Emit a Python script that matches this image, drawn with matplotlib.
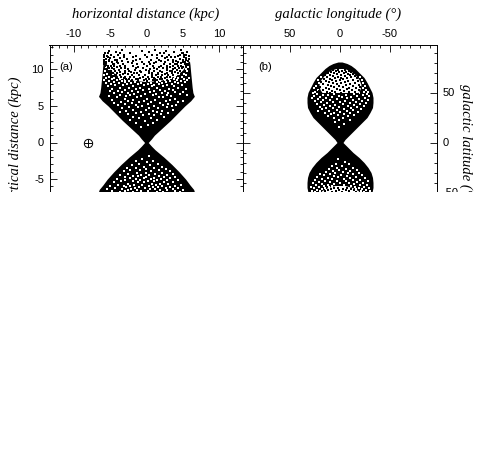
import matplotlib
matplotlib.use('Agg')
import matplotlib.pyplot as plt
from matplotlib.patches import Rectangle
from matplotlib.ticker import MultipleLocator

plt.rcParams['font.family'] = ['Liberation Sans', 'DejaVu Sans']
plt.rcParams['axes.unicode_minus'] = False

# outline of the point cloud (height, half width)
A_Z = [0, 0.5, 1, 2, 3, 4, 5, 5.7, 6.3, 6.8, 7.5, 8.5, 9.5, 10.6, 11.3]
A_HALF = [0.25, 0.7, 1.1, 2.2, 3.3, 4.3, 5.3, 6.1, 6.6, 6.4, 6.3, 6.2, 6.1, 6.0, 5.9]
A_ZS = [0, -0.5, -1, -2, -3, -4, -5, -5.8, -6.4, -7.0]
A_HALFS = [0.25, 0.7, 1.2, 2.4, 3.5, 4.5, 5.4, 6.0, 6.5, 6.7]

# the sparse area above the dense part of panel (a)
A_THIN_X = [-7, -5.7, -5.0, -4, -2, 0, 2, 4, 5.0, 5.7, 7]
A_THIN_Z = [11.6, 11.0, 9.9, 9.1, 8.5, 8.3, 8.5, 9.1, 9.9, 11.0, 11.6]

B_LAT = [0, 3, 6, 10, 15, 20, 25, 30, 35, 40, 45, 50, 55, 60, 65, 70, 74, 77, 79, 80.5]
B_HALF = [3, 5, 8, 12, 17, 22, 27, 30, 32.5, 33, 33, 32, 29.5, 27, 24, 19, 15, 11, 7, 2]
B_LATS = [0, -3, -6, -10, -15, -20, -25, -30, -35, -40, -45, -50, -52]
B_HALFS = [3, 6, 9, 13, 19, 24, 28, 31, 32.5, 33, 33, 32, 31]

# single dots at the top of panel (a): (height, [horizontal positions])
A_TOP_ROWS = [
    (12.6, [-3.4, 1.2, 4.7]),
    (12.45, [-5.1, -0.6, 2.7]),
    (12.3, [-4.2, 0.4, 3.8, 5.6]),
    (12.15, [-5.7, -2.3, 1.9, 4.9]),
    (12.0, [-4.9, -3.1, 0.8, 5.2, 3.1]),
    (11.85, [-5.4, -1.4, 2.2, 4.3, 5.8]),
    (11.7, [-5.9, -4.5, 0.1, 3.4]),
    (11.55, [-5.0, -3.7, 1.5, 5.5, 2.6]),
    (11.4, [-5.6, -2.7, -0.9, 4.6, 5.9]),
    (11.25, [-5.8, -4.3, 0.6, 3.0, 5.0]),
    (11.1, [-5.2, -3.3, -1.8, 2.0, 4.1, 5.7]),
    (10.95, [-5.9, -4.7, 0.3, 3.6, 5.3]),
    (10.8, [-5.5, -3.9, -2.0, 1.1, 4.8]),
    (10.65, [-4.4, -0.3, 2.4, 3.9, 5.6]),
    (10.5, [-5.3, -4.9, -2.9, 0.9, 2.9, 4.4]),
    (10.35, [-4.1, -1.1, 1.7, 3.3, 5.0]),
    (10.2, [-4.8, -3.5, -0.5, 2.3, 4.5]),
    (10.05, [-4.5, -2.5, 0.5, 1.4, 3.7]),
    (9.9, [-3.8, -1.6, 0.0, 2.8, 4.2]),
    (9.75, [-4.3, -3.0, 1.0, 3.2]),
    (9.6, [-3.6, -2.1, -0.7, 2.1, 4.0]),
    (9.45, [-4.0, -1.3, 0.7, 3.5]),
    (9.3, [-3.2, -2.6, 1.6, 2.5]),
    (9.15, [-3.7, -0.2, 1.3, 3.0]),
    (9.0, [-2.9, -1.7, 0.2, 2.0, 3.3]),
    (8.85, [-3.1, -0.9, 1.1, 2.6]),
    (8.7, [-2.4, -1.5, 0.4, 1.8]),
    (8.55, [-2.0, -0.4, 0.9, 1.5]),
    (8.4, [-1.2, 0.1, 1.2]),
    (12.22, [-5.3, -3.7, 2.4, 5.1]),
    (11.92, [-5.8, -3.9, -0.2, 1.4, 4.6, 5.5]),
    (11.62, [-5.3, -3.1, -1.9, 2.9, 4.0, 5.2]),
    (11.32, [-5.1, -4.0, -1.4, 1.7, 3.7, 5.4]),
    (11.02, [-5.6, -4.1, -2.6, -0.6, 1.3, 2.6, 4.4, 5.0]),
    (10.72, [-5.8, -4.6, -3.2, -1.3, 0.5, 3.2, 4.2, 5.3, 5.9]),
    (10.42, [-5.7, -4.4, -3.7, -1.9, 0.1, 2.0, 3.6, 4.8, 5.5]),
    (10.12, [-5.1, -3.0, -1.5, 1.0, 2.8, 4.0, 4.9]),
    (9.82, [-4.9, -2.4, -0.9, 0.4, 1.9, 3.5, 4.6]),
    (9.52, [-4.6, -2.9, -1.7, 0.3, 1.6, 2.9, 4.3]),
    (9.22, [-4.2, -2.0, -1.0, 0.8, 2.2, 3.6]),
    (8.92, [-3.5, -2.2, -0.5, 0.7, 1.6, 2.9]),
    (8.62, [-2.8, -1.2, 0.0, 1.2, 2.2]),
]

# white gaps inside the dense part of panel (a)
A_GAP_ROWS = [
    (10.3, [-5.6, 5.7]),
    (10.0, [-5.2, 5.4]),
    (9.7, [-5.7, -4.9, 4.8, 5.6]),
    (9.4, [-5.4, -4.6, 4.5, 5.2]),
    (9.2, [-5.8, -4.2, 4.1, 5.5]),
    (9.0, [-5.1, -3.8, 3.9, 4.9]),
    (8.85, [-5.5, -4.4, -3.3, 3.4, 4.4, 5.8]),
    (8.7, [-4.8, -3.6, 3.1, 3.8, 5.2]),
    (8.55, [-5.9, -4.1, -2.9, 2.5, 4.2, 5.6]),
    (8.4, [-5.2, -3.4, -2.4, 1.9, 3.3, 4.7]),
    (8.25, [-4.5, -3.0, -1.6, 1.4, 2.7, 3.9, 5.3]),
    (8.1, [-5.6, -3.8, -2.1, -0.7, 0.6, 2.2, 4.4]),
    (7.95, [-4.9, -2.7, -1.2, 0.2, 1.7, 3.5]),
    (7.8, [-4.3, -3.2, -0.3, 1.1, 2.9, 4.9]),
    (7.65, [-5.3, -1.9, 0.7, 2.3, 3.8]),
    (7.5, [-3.6, -2.4, -0.9, 1.5, 4.3]),
    (7.35, [-4.7, -1.4, 0.3, 3.1, 5.5]),
    (7.2, [-2.9, -0.5, 1.9, 3.6]),
    (7.05, [-5.0, -3.9, -2.0, 1.0, 2.6]),
    (6.9, [-3.3, -1.1, 0.5, 4.0, 5.1]),
    (6.75, [-4.4, -2.6, 2.1, 3.0]),
    (6.6, [-1.7, -0.2, 1.3, 4.6]),
    (6.45, [-3.7, -2.2, 0.9, 2.8, 5.6]),
    (6.3, [-5.2, -2.8, -0.7, 3.4]),
    (6.15, [-4.0, -1.3, 1.7, 2.3]),
    (6.0, [-3.0, 0.1, 3.9]),
    (5.85, [-4.8, -1.9, 1.2, 3.2]),
    (5.7, [-2.5, -0.4, 2.7, 5.0]),
    (5.55, [-3.5, -1.0, 0.6, 4.3]),
    (5.4, [-4.5, -2.0, 1.9]),
    (5.25, [-2.9, 0.2, 3.0]),
    (5.1, [-3.9, -1.5, 2.3, 4.1]),
    (4.95, [-0.6, 1.0, 3.5]),
    (4.8, [-2.4, -1.2, 2.8]),
    (4.65, [-3.3, 0.4, 1.6]),
    (4.5, [-1.8, -0.1, 3.7]),
    (4.35, [-2.8, 0.9, 2.2]),
    (4.2, [-3.6, -0.8, 1.4]),
    (4.05, [-1.4, 3.0]),
    (3.9, [-2.5, 0.3, 2.0]),
    (3.7, [-0.5, 1.1]),
    (3.5, [-1.9, 2.4]),
    (3.3, [-1.0, 0.6]),
    (3.1, [-2.2, 1.5]),
    (2.9, [-0.2]),
    (2.7, [-1.4, 0.9]),
    (2.4, [0.2]),
    (2.1, [-0.8]),
    (-1.9, [0.3]),
    (-2.2, [-0.6]),
    (-2.5, [0.9, -1.4]),
    (-2.7, [0.1]),
    (-2.9, [-1.0, 1.6]),
    (-3.1, [-2.0, 0.5]),
    (-3.3, [-0.4, 2.2]),
    (-3.5, [-1.5, 1.0, -2.7]),
    (-3.65, [0.0, 2.7]),
    (-3.8, [-2.2, -0.9, 1.7]),
    (-3.95, [-3.1, 0.6, 3.2]),
    (-4.1, [-1.3, 2.2, -0.1]),
    (-4.25, [-2.6, 1.2, 3.6]),
    (-4.4, [-3.6, -0.7, 0.4, 2.8]),
    (-4.55, [-1.9, 1.7, -1.1]),
    (-4.7, [-3.0, 0.0, 2.4, 3.9]),
    (-4.85, [-2.3, -0.4, 1.1, 3.3]),
    (-5.0, [-4.0, -1.5, 0.6, 2.0]),
    (-5.15, [-2.9, -0.9, 1.5, 2.9, 4.4]),
    (-5.3, [-3.5, -1.9, 0.2, 1.0]),
    (-5.45, [-4.5, -1.2, -0.3, 2.4, 3.6]),
    (-5.6, [-2.6, 0.7, 1.8, 3.0]),
    (-5.75, [-3.9, -1.7, -0.6, 1.3, 4.8]),
    (-5.9, [-5.0, -3.1, -2.2, 0.3, 2.2, 3.9]),
    (-6.05, [-2.8, -1.0, 0.9, 1.6, 3.2]),
    (-6.2, [-4.3, -1.6, -0.2, 2.7, 4.4]),
    (-6.35, [-5.4, -3.4, -2.1, 0.5, 1.2, 3.6]),
    (-6.5, [-2.5, -1.3, 1.9, 2.9, 5.1]),
    (-6.65, [-4.7, -3.0, -0.7, 0.2, 3.9]),
    (-6.8, [-3.7, -1.9, 1.4, 2.3, 4.6]),
]

# the bright caps of panel (b)
B_CAP_LAT = [50, 53, 58, 63, 68, 72, 74]
B_CAP_HALF = [18, 20, 21, 19, 15, 10, 4]
B_LOW_CAP_LAT = [-43, -45, -48, -52]
B_LOW_CAP_HALF = [5, 12, 18, 21]

B_CAP_ROWS = [
    (73, [-5, 2, 7]),
    (72, [-9, -2, 4]),
    (71, [-11, -6, 1, 9]),
    (70, [-4, 6, 12]),
    (69, [-13, -8, 3]),
    (68, [-1, 10, 15, -10]),
    (67, [-15, -5, 7]),
    (66, [-11, 2, 13]),
    (65, [-17, -7, 5, -1]),
    (64, [-3, 10, 16]),
    (63, [-13, 0, 8]),
    (62, [-18, -8, 4, 14]),
    (61, [-5, 11, 19]),
    (60, [-15, -1, 7]),
    (59, [-10, 3, 17]),
    (58, [-19, -6, 12]),
    (57, [-13, 1, 9]),
    (56, [-3, 6, 20, -20]),
    (55, [-16, -9, 14]),
    (54, [-7, 3, 11]),
    (53, [-19, -12, 17, 0]),
    (52, [-4, 8, 21]),
    (51, [-15, -9, 5, 13]),
    (50, [-1, -21, 19, 10]),
]

B_GAP_ROWS = [
    (66, [-20, 19]),
    (63, [-22, 22]),
    (60, [-23, 21]),
    (57, [-25, 24]),
    (55, [-23, 26]),
    (53, [-26, 22]),
    (51, [-24, 25, -28]),
    (50, [-20, 27]),
    (49, [-27, -14, 6, 23]),
    (48, [-23, -6, 12, 17]),
    (47, [-29, -17, 1, 26]),
    (46, [-11, -2, 20, 8]),
    (45, [-25, -7, 14, 28]),
    (44, [-19, 3, 22]),
    (43, [-28, -13, 10, 17]),
    (42, [-22, -5, 25]),
    (41, [-16, 0, 7, 19]),
    (40, [-26, -10, 13]),
    (39, [-20, -3, 23]),
    (38, [-14, 5, 16]),
    (37, [-24, -8, 10]),
    (36, [-17, 1, 20]),
    (35, [-11, 7, 14]),
    (34, [-21, -4, 18]),
    (33, [-13, 3]),
    (32, [-7, 11, 22]),
    (31, [-18, 0]),
    (30, [-10, 6, 15]),
    (29, [-4, 9]),
    (28, [-14, 2]),
    (27, [-8, 12]),
    (25, [-3, 6]),
    (23, [-10, 1]),
    (21, [5]),
    (19, [-4]),
    (16, [1]),
    (-16, [2]),
    (-19, [-5]),
    (-21, [4, -9]),
    (-23, [-2, 8]),
    (-25, [-13, 3]),
    (-26, [-6, 11]),
    (-27, [-17, 1]),
    (-28, [7, -10]),
    (-29, [-3, 14]),
    (-30, [-19, -8, 5]),
    (-31, [-13, 10, 20]),
    (-32, [-1, 16, -22]),
    (-33, [-7, 6]),
    (-34, [-16, 2, 23]),
    (-35, [-25, -10, 12]),
    (-36, [-4, 18, 8]),
    (-37, [-20, -13, 25]),
    (-38, [-28, -6, 3, 15]),
    (-39, [-17, 10, 21]),
    (-40, [-23, -9, 0, 27]),
    (-41, [-14, 6, 18]),
    (-42, [-27, -20, -4, 12, 24]),
    (-43, [-11, 8, 16]),
    (-44, [-24, -15, 11, 21, 29]),
    (-45, [-29, -19, 15, 26]),
    (-46, [-22, -16, 18]),
    (-47, [-26, 14, 23]),
    (-48, [-30, -21, 20, 28]),
    (-49, [-24, 25]),
    (-50, [-28, 22, 30]),
]
B_LOW_DOT_ROWS = [
    (-45, [-7, 2, 6]),
    (-46, [-11, -3, 9]),
    (-47, [-14, -6, 1, 12]),
    (-48, [-9, 4, 15]),
    (-49, [-16, -2, 8]),
    (-50, [-12, -6, 3, 17]),
]

EARTH_X = [-8]
EARTH_Z = [0]


def points(rows):
    xs = [x for z, row in rows for x in row]
    ys = [z for z, row in rows for x in row]
    return xs, ys


fig = plt.figure(figsize=(4.82, 4.75), dpi=100)
ax_a = fig.add_axes([49.5 / 482, 1 - 240 / 475, 193.5 / 482, 195 / 475])
ax_b = fig.add_axes([243 / 482, 1 - 240 / 475, 194 / 482, 195 / 475])

# panel (a)
ax_a.set_xlim(-13.35, 13.3)
ax_a.set_ylim(-13.3, 13.3)
ax_a.fill_betweenx(A_Z, [-h for h in A_HALF], A_HALF, color='k', lw=0)
ax_a.fill_betweenx(A_ZS, [-h for h in A_HALFS], A_HALFS, color='k', lw=0)
ax_a.fill_between(A_THIN_X, A_THIN_Z, [13.0] * len(A_THIN_X), color='w', lw=0, zorder=2)
x, y = points(A_GAP_ROWS)
ax_a.scatter(x, y, s=1.1, c='w', marker='s', linewidths=0, zorder=3)
x, y = points(A_TOP_ROWS)
ax_a.scatter(x, y, s=2.2, c='k', marker='s', linewidths=0, zorder=3)
ax_a.plot(EARTH_X, EARTH_Z, 'o', mfc='none', mec='k', ms=6, mew=0.7)
ax_a.plot(EARTH_X, EARTH_Z, '+', color='k', ms=6, mew=0.7)
ax_a.text(-12, 10.3, '(a)', fontsize=8, va='center')

ax_a.xaxis.set_major_locator(MultipleLocator(5))
ax_a.xaxis.set_minor_locator(MultipleLocator(1))
ax_a.yaxis.set_major_locator(MultipleLocator(5))
ax_a.yaxis.set_minor_locator(MultipleLocator(1))

# panel (b)
ax_b.set_xlim(97, -97)
ax_b.set_ylim(-97.5, 97.5)
ax_b.fill_betweenx(B_LAT, [-h for h in B_HALF], B_HALF, color='k', lw=0)
ax_b.fill_betweenx(B_LATS, [-h for h in B_HALFS], B_HALFS, color='k', lw=0)
ax_b.fill_betweenx(B_CAP_LAT, [-h for h in B_CAP_HALF], B_CAP_HALF, color='w', lw=0, zorder=2)
ax_b.fill_betweenx(B_LOW_CAP_LAT, [-h for h in B_LOW_CAP_HALF], B_LOW_CAP_HALF, color='w', lw=0, zorder=2)
x, y = points(B_GAP_ROWS)
ax_b.scatter(x, y, s=1.1, c='w', marker='s', linewidths=0, zorder=3)
x, y = points(B_CAP_ROWS + B_LOW_DOT_ROWS)
ax_b.scatter(x, y, s=2.2, c='k', marker='s', linewidths=0, zorder=3)
ax_b.text(82, 76, '(b)', fontsize=8, va='center')

ax_b.xaxis.set_major_locator(MultipleLocator(50))
ax_b.xaxis.set_minor_locator(MultipleLocator(10))
ax_b.yaxis.set_major_locator(MultipleLocator(50))
ax_b.yaxis.set_minor_locator(MultipleLocator(10))

for ax in (ax_a, ax_b):
    ax.tick_params(which='major', direction='in', length=5, width=0.6, top=True, right=True,
                   labeltop=True, labelbottom=False, labelsize=8, pad=4)
    ax.tick_params(which='minor', direction='in', length=2.5, width=0.6, top=True, right=True)
    for sp in ax.spines.values():
        sp.set_linewidth(0.7)

ax_a.set_xticks([-10, -5, 0, 5, 10])
ax_a.set_yticks([-10, -5, 0, 5, 10])
ax_b.set_xticks([50, 0, -50])
ax_b.set_xticklabels(['50', '0', '-50'])
ax_b.set_yticks([-50, 0, 50])
ax_b.yaxis.tick_right()
ax_b.tick_params(which='both', left=True, right=True)

label = dict(family=['Liberation Serif', 'DejaVu Serif'], style='italic', fontsize=10.5)
fig.text(146 / 482, 1 - 14 / 475, 'horizontal distance (kpc)', ha='center', va='center', **label)
fig.text(338 / 482, 1 - 14 / 475, 'galactic longitude (\u00b0)', ha='center', va='center', **label)
fig.text(15 / 482, 1 - 142 / 475, 'vertical distance (kpc)', rotation=90, ha='center', va='center', **label)
fig.text(466 / 482, 1 - 142 / 475, 'galactic latitude (\u00b0)', rotation=-90, ha='center', va='center', **label)

# the source picture is cut off below this line
fig.add_artist(Rectangle((0, 0), 1, 1 - 192 / 475, transform=fig.transFigure, color='w', lw=0, zorder=20))

fig.savefig('out.png', dpi=100)
